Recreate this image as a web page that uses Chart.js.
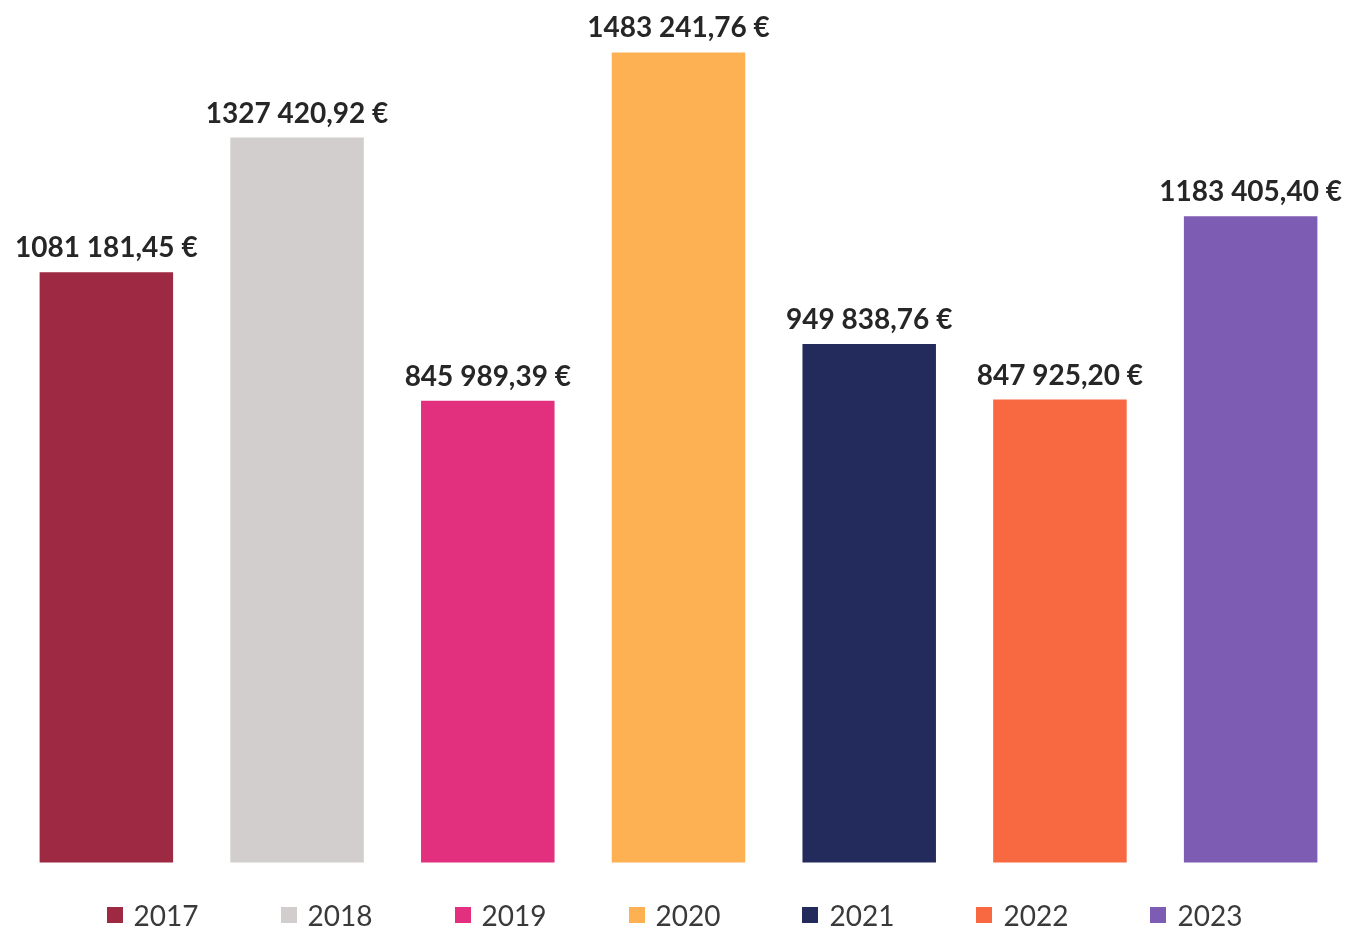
<!DOCTYPE html>
<html>
<head>
<meta charset="utf-8">
<script src="https://cdn.jsdelivr.net/npm/chart.js@4"></script>
<style>
  body { margin: 0; background: #fff; }
  #wrap { position: relative; width: 1349px; height: 934px; }
  #legend {
    position: absolute; left: 0; top: 898px; width: 1349px;
    display: flex; justify-content: center; gap: 82px;
    font-family: Lato, "Open Sans", sans-serif; font-size: 28px; color: #3a3a3a;
  }
  #legend span.item { display: flex; align-items: center; }
  #legend i { display: inline-block; width: 16px; height: 16px; margin-right: 11px; }
</style>
</head>
<body>
<div id="wrap">
  <canvas id="barChart" width="1349" height="934"></canvas>
  <div id="legend"></div>
</div>
<script>
// Montants par année
const annees = ['2017', '2018', '2019', '2020', '2021', '2022', '2023'];
const montants = [1081181.45, 1327420.92, 845989.39, 1483241.76, 949838.76, 847925.20, 1183405.40];
const couleurs = ['#9d2943', '#d2cecd', '#e2307f', '#fdb152', '#222b5c', '#f86841', '#7d5db3'];

// format du fichier d'origine : 1081 181,45 €
function formatEuro(v) {
    const parts = v.toFixed(2).split('.');
    const s = parts[0];
    return s.slice(0, -3) + ' ' + s.slice(-3) + ',' + parts[1] + ' €';
}

const valueLabels = {
    id: 'valueLabels',
    afterDatasetsDraw(chart) {
        const ctx = chart.ctx;
        const meta = chart.getDatasetMeta(0);
        ctx.save();
        ctx.font = 'bold 28px Lato, "Open Sans", sans-serif';
        ctx.fillStyle = '#262626';
        ctx.textAlign = 'center';
        ctx.textBaseline = 'alphabetic';
        meta.data.forEach((bar, i) => {
            ctx.fillText(formatEuro(montants[i]), bar.x, bar.y - 15);
        });
        ctx.restore();
    }
};

const barCtx = document.getElementById('barChart').getContext('2d');
new Chart(barCtx, {
    type: 'bar',
    data: {
        labels: annees,
        datasets: [{
            data: montants,
            backgroundColor: couleurs,
            categoryPercentage: 1,
            barPercentage: 0.7
        }]
    },
    options: {
        responsive: false,
        animation: false,
        layout: { padding: { left: 11, right: 3, top: 5, bottom: 71 } },
        plugins: {
            legend: { display: false },
            tooltip: { enabled: false }
        },
        scales: {
            x: { display: false },
            y: {
                min: 0,
                max: 1570000,
                ticks: { display: false, stepSize: 200000 },
                border: { display: false },
                grid: {
                    color: (c) => (c.tick && c.tick.value % 200000 === 0 && c.tick.value > 0) ? '#e8e8e8' : 'transparent',
                    drawTicks: false
                }
            }
        }
    },
    plugins: [valueLabels]
});

// légende en dessous
const legend = document.getElementById('legend');
annees.forEach((a, i) => {
    const item = document.createElement('span');
    item.className = 'item';
    item.innerHTML = '<i style="background:' + couleurs[i] + '"></i>' + a;
    legend.appendChild(item);
});
</script>
</body>
</html>
